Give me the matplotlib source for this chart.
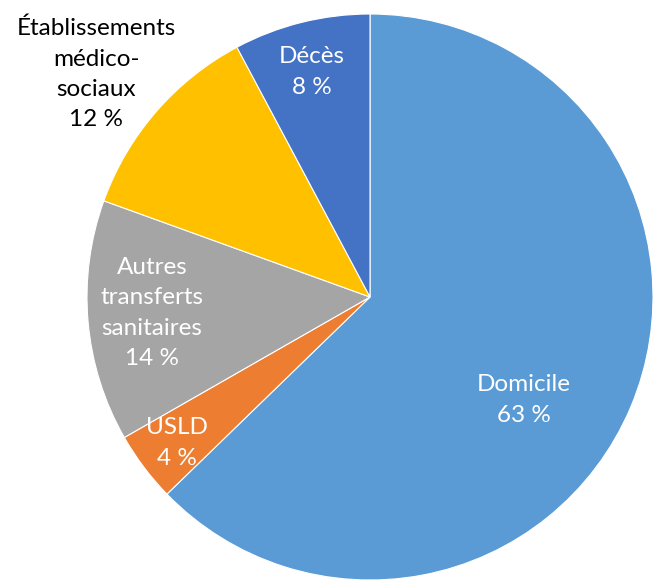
import matplotlib.pyplot as plt

# Répartition des sorties (lecture du graphique)
categories = ["Domicile", "USLD", "Autres\ntransferts\nsanitaires",
              "Établissements\nmédico-\nsociaux", "Décès"]
values = [62.8, 4.0, 13.8, 11.7, 7.8]
colors = ["#5B9BD5", "#ED7D31", "#A5A5A5", "#FFC000", "#4472C4"]
text_colors = ["white", "white", "white", "black", "white"]
# positions des étiquettes (coordonnées du camembert, rayon = 1)
label_pos = [(0.544, -0.364), (-0.682, -0.516), (-0.770, -0.057),
             (-0.968, 0.788), (-0.205, 0.795)]

plt.rcParams['font.family'] = ['Lato', 'DejaVu Sans']

fig = plt.figure(figsize=(6.53, 5.80), dpi=100)
ax = fig.add_axes([87 / 653, 0, 566 / 653, 566 / 580])

ax.pie(values, colors=colors, startangle=90, counterclock=False,
       radius=1, wedgeprops=dict(edgecolor="white", linewidth=0.8))

total = sum(values)
for cat, v, (x, y), tc in zip(categories, values, label_pos, text_colors):
    pct = round(v / total * 100)
    ax.text(x, y, f"{cat}\n{pct} %", ha="center", va="center",
            fontsize=17.5, color=tc, linespacing=1.55)

ax.set_xlim(-1, 1)
ax.set_ylim(-1, 1)
ax.set_aspect("equal")
ax.axis("off")

fig.savefig("out.png", dpi=100)
